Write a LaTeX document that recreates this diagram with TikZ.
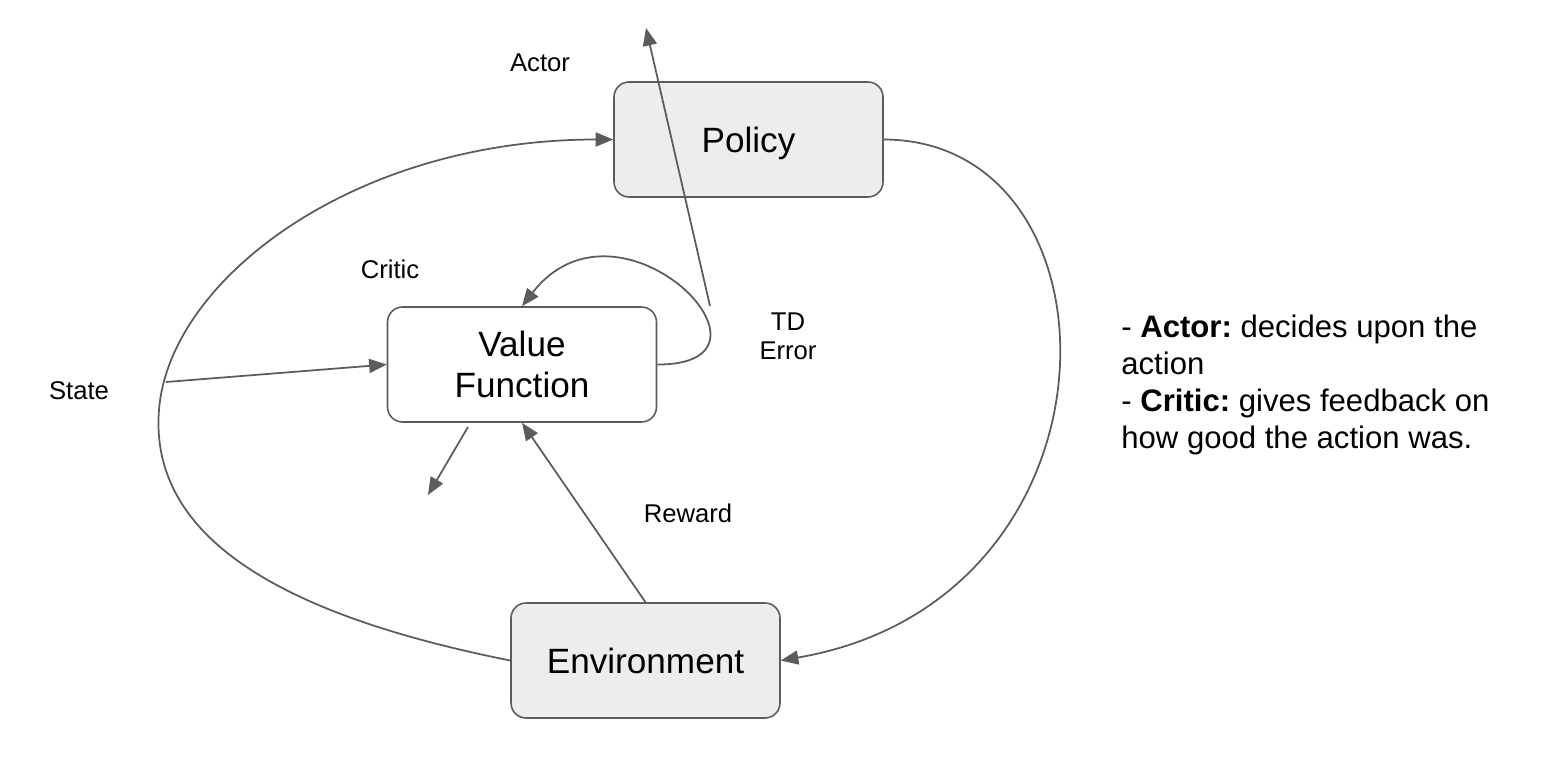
\documentclass[tikz,border=0pt]{standalone}
\usepackage{fontspec}
\setmainfont{Liberation Sans}
\usetikzlibrary{arrows.meta}
\colorlet{boxgray}{black!7}
\colorlet{linegray}{black!64}
\newcommand\boxfont{\fontsize{20}{23.2}\selectfont}
\newcommand\labfont{\fontsize{14.6}{16.6}\selectfont}
\newcommand\notefont{\fontsize{17.7}{21}\selectfont}
\frenchspacing

\begin{document}
\begin{tikzpicture}[x=0.02cm,y=-0.02cm,>={Triangle[length=10pt,width=8pt]}]%
        \useasboundingbox (0,0) rectangle (1542,758);%%
        \begin{scope}[shape=rectangle]
        \tikzstyle{every node}=[draw=linegray,line width=.9pt,rounded corners=.3cm,minimum width=5.38cm,minimum height=2.3cm,font=\boxfont,align=center] %%
        \node[fill=boxgray,text depth=0pt] (pol) at (748.5,139.5)  {Policy}; %%
        \node[fill=white] (vf) at (522,364.5)  {Value\\Function}; %%
        \node[fill=boxgray] (env) at (645.5,660.5)  {Environment}; %%
        \end{scope}
        \begin{scope}
        \tikzstyle{every node}=[font=\labfont] %%
        \node (actor) at (540,63)  {Actor}; %%
        \node (critic) at (390,269)  {Critic}; %%
        \node[align=center] (td) at (788,336)  {TD\\Error}; %%
        \node (state) at (79,391)  {State}; %%
        \node (reward) at (688,513)  {Reward}; %%
        \end{scope}
        \node[anchor=north west,inner sep=0pt,align=left,font=\notefont] (note) at (1121,315)  {- \textbf{Actor:} decides upon the\\action\\- \textbf{Critic:} gives feedback on\\how good the action was.}; %%
        \coordinate (sl) at (159,410); %%
        \coordinate (s0) at (166,382); %%
        \coordinate (td0) at (710,306); %%
        \coordinate (td1) at (646,28); %%
        \coordinate (vo0) at (468,427); %%
        \coordinate (vo1) at (428,495); %%
        \begin{scope}[draw=linegray,line width=1pt]
        \draw[->] (env.west) .. controls +(-200,-40) and +(-11,140) .. (sl) .. controls +(10,-130) and +(-260,0) .. (pol.west); %%
        \draw[->] (s0)--(vf.west); %%
        \draw[->] (pol.east) .. controls (1130,140) and (1134,600) .. (env.east); %%
        \draw[->] (env.north)--(vf.south); %%
        \draw[->] (vf.east) .. controls (800,365) and (620,180) .. (vf.north); %%
        \draw[->] (td0)--(td1); %%
        \draw[->] (vo0)--(vo1); %%
        \end{scope}
        \end{tikzpicture}
\end{document}
